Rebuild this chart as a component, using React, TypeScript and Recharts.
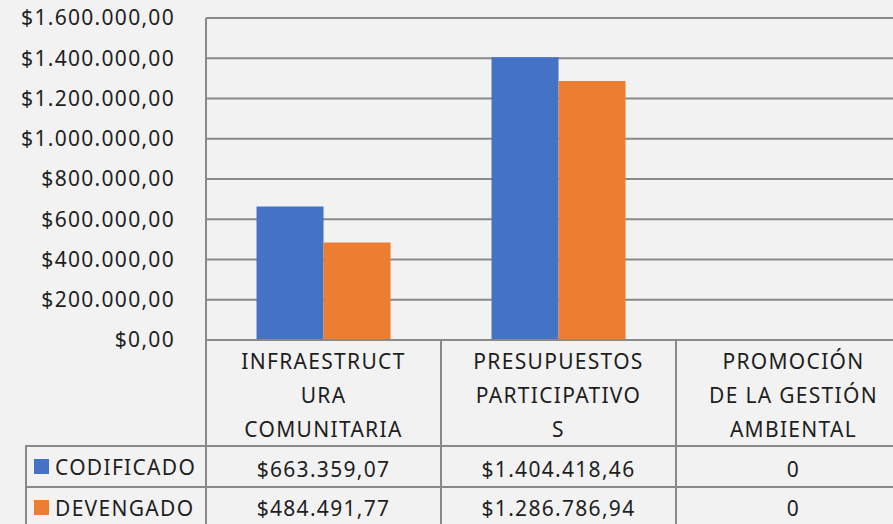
import { BarChart, Bar, XAxis, YAxis, CartesianGrid } from 'recharts';

const CATEGORIES = ['INFRAESTRUCTURA COMUNITARIA', 'PRESUPUESTOS PARTICIPATIVOS', 'PROMOCIÓN DE LA GESTIÓN AMBIENTAL'];
const HEADER_LINES = [
  ['INFRAESTRUCT', 'URA', 'COMUNITARIA'],
  ['PRESUPUESTOS', 'PARTICIPATIVO', 'S'],
  ['PROMOCIÓN', 'DE LA GESTIÓN', 'AMBIENTAL'],
];
const CODIFICADO = [663359.07, 1404418.46, 0];
const DEVENGADO = [484491.77, 1286786.94, 0];
const Y_TICKS = [0, 200000, 400000, 600000, 800000, 1000000, 1200000, 1400000, 1600000];

const SERIES = [
  { key: 'CODIFICADO', values: CODIFICADO, color: '#4472C4' },
  { key: 'DEVENGADO', values: DEVENGADO, color: '#ED7D31' },
];

const data = CATEGORIES.map((c, i) => ({
  name: c,
  CODIFICADO: CODIFICADO[i],
  DEVENGADO: DEVENGADO[i],
}));

const FONT = '"Noto Sans", sans-serif';
const LINE = '#898989';
const TEXT = '#1e1e1e';
const COL_W = 235;
const FS = 21;
const LS = 1.3;

function money(v: number) {
  const [int, dec] = v.toFixed(2).split('.');
  return '$' + int.replace(/\B(?=(\d{3})+(?!\d))/g, '.') + ',' + dec;
}

function cell(v: number) {
  return v === 0 ? '0' : money(v);
}

// category header + data rows, one column per category
function TableTick(props: any) {
  const { x, y, index } = props;
  const half = COL_W / 2;
  const lines = HEADER_LINES[index] ?? [];
  return (
    <g fontFamily={FONT} fontSize={FS} fill={TEXT} letterSpacing={LS}>
      {index === 0 && <line x1={x - half} x2={x - half} y1={y} y2={y + 200} stroke={LINE} strokeWidth={2} />}
      <line x1={x + half} x2={x + half} y1={y} y2={y + 200} stroke={LINE} strokeWidth={2} />
      <line x1={x - half} x2={x + half} y1={y + 106} y2={y + 106} stroke={LINE} strokeWidth={2} />
      <line x1={x - half} x2={x + half} y1={y + 147} y2={y + 147} stroke={LINE} strokeWidth={2} />
      <line x1={x - half} x2={x + half} y1={y + 188} y2={y + 188} stroke={LINE} strokeWidth={2} />
      {lines.map((l, i) => (
        <text key={i} x={x} y={y + 29 + i * 34} textAnchor="middle">{l}</text>
      ))}
      {SERIES.map((s, i) => (
        <text key={s.key} x={x} y={y + 137 + i * 39} textAnchor="middle">{cell(s.values[index])}</text>
      ))}
    </g>
  );
}

function LegendCells() {
  return (
    <div
      style={{
        position: 'absolute', left: 25, top: 445, borderTop: `2px solid ${LINE}`,
        fontFamily: FONT, fontSize: FS, letterSpacing: LS, color: TEXT,
      }}
    >
      {SERIES.map((s) => (
        <div
          key={s.key}
          style={{
            width: 181,
            height: 39,
            borderLeft: `2px solid ${LINE}`,
            borderBottom: `2px solid ${LINE}`,
            display: 'flex',
            alignItems: 'center',
          }}
        >
          <span style={{ width: 15, height: 15, background: s.color, marginLeft: 7, marginRight: 6 }} />
          <span>{s.key}</span>
        </div>
      ))}
    </div>
  );
}

export default function App() {
  return (
    <div style={{ position: 'absolute', left: 0, top: 0, width: 893, height: 524, overflow: 'hidden', background: '#f2f2f2' }}>
      <BarChart
        width={1000}
        height={540}
        data={data}
        margin={{ top: 18, right: 89, left: 0, bottom: 0 }}
        barCategoryGap="21.5%"
        barGap={0}
      >
        <CartesianGrid vertical={false} stroke={LINE} strokeWidth={2} />
        <XAxis
          dataKey="name"
          height={200}
          axisLine={{ stroke: LINE, strokeWidth: 2 }}
          tickLine={false}
          tickSize={0}
          tickMargin={0}
          interval={0}
          tick={<TableTick />}
        />
        <YAxis
          width={206}
          domain={[0, 1600000]}
          ticks={Y_TICKS}
          interval={0}
          axisLine={{ stroke: LINE, strokeWidth: 2 }}
          tickLine={false}
          tickSize={0}
          tickMargin={31}
          tickFormatter={(v: number) => money(v)}
          tick={{ fill: TEXT, fontSize: FS, fontFamily: FONT, letterSpacing: LS }}
        />
        {SERIES.map((s) => (
          <Bar key={s.key} dataKey={s.key} fill={s.color} isAnimationActive={false} />
        ))}
      </BarChart>
      <LegendCells />
    </div>
  );
}
